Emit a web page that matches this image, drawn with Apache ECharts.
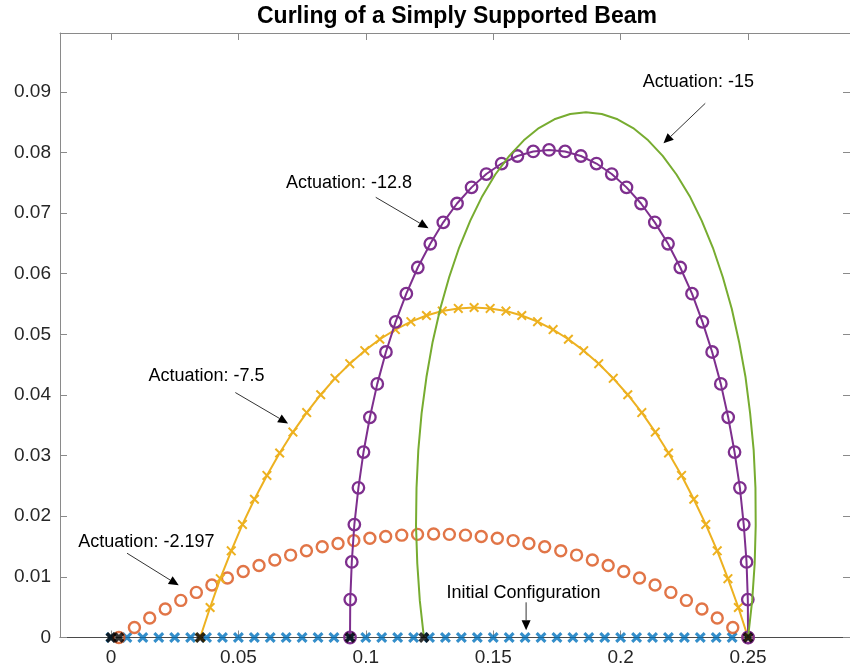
<!DOCTYPE html>
<html>
<head>
<meta charset="utf-8">
<script src="https://cdn.jsdelivr.net/npm/echarts@6/dist/echarts.min.js"></script>
<style>
  html, body { margin: 0; padding: 0; background: #fff; }
  #chart { width: 850px; height: 672px; }
</style>
</head>
<body>
<div id="chart"></div>
<script>
// Axis tick values
const xTicks = [0, 0.05, 0.1, 0.15, 0.2, 0.25];
const yTicks = [0, 0.01, 0.02, 0.03, 0.04, 0.05, 0.06, 0.07, 0.08, 0.09];

// Initial (flat) configuration: 41 nodes along the beam
const initialX = [0, 0.00625, 0.0125, 0.01875, 0.025, 0.03125, 0.0375, 0.04375, 0.05, 0.05625,
  0.0625, 0.06875, 0.075, 0.08125, 0.0875, 0.09375, 0.1, 0.10625, 0.1125, 0.11875,
  0.125, 0.13125, 0.1375, 0.14375, 0.15, 0.15625, 0.1625, 0.16875, 0.175, 0.18125,
  0.1875, 0.19375, 0.2, 0.20625, 0.2125, 0.21875, 0.225, 0.23125, 0.2375, 0.24375, 0.25];
const initialY = [0, 0, 0, 0, 0, 0, 0, 0, 0, 0, 0, 0, 0, 0, 0, 0, 0, 0, 0, 0,
  0, 0, 0, 0, 0, 0, 0, 0, 0, 0, 0, 0, 0, 0, 0, 0, 0, 0, 0, 0, 0];

// Actuation -2.197
const act2197X = [0.0031, 0.0092, 0.0152, 0.0213, 0.0274, 0.0335, 0.0396, 0.0457, 0.0519, 0.0581,
  0.0643, 0.0705, 0.0767, 0.0829, 0.0891, 0.0953, 0.1016, 0.1078, 0.1141, 0.1203,
  0.1266, 0.1328, 0.1391, 0.1453, 0.1516, 0.1578, 0.1640, 0.1702, 0.1765, 0.1827,
  0.1889, 0.1951, 0.2012, 0.2074, 0.2135, 0.2197, 0.2258, 0.2319, 0.2379, 0.2440, 0.25];
const act2197Y = [0, 0.00165, 0.00322, 0.00471, 0.00612, 0.00744, 0.00867, 0.00982, 0.01089, 0.01187,
  0.01277, 0.01359, 0.01431, 0.01496, 0.01551, 0.01598, 0.01637, 0.01667, 0.01688, 0.01701,
  0.01706, 0.01701, 0.01688, 0.01667, 0.01637, 0.01598, 0.01551, 0.01496, 0.01431, 0.01359,
  0.01277, 0.01187, 0.01089, 0.00982, 0.00867, 0.00744, 0.00612, 0.00471, 0.00322, 0.00165, 0];

// Actuation -7.5
const act75X = [0.0350, 0.0389, 0.0429, 0.0472, 0.0516, 0.0563, 0.0612, 0.0662, 0.0714, 0.0768,
  0.0823, 0.0879, 0.0937, 0.0996, 0.1055, 0.1116, 0.1177, 0.1238, 0.1300, 0.1363,
  0.1425, 0.1488, 0.1550, 0.1612, 0.1674, 0.1735, 0.1795, 0.1855, 0.1914, 0.1971,
  0.2028, 0.2083, 0.2136, 0.2188, 0.2239, 0.2287, 0.2334, 0.2379, 0.2421, 0.2462, 0.25];
const act75Y = [0, 0.00495, 0.00971, 0.01429, 0.01865, 0.02280, 0.02673, 0.03043, 0.03388, 0.03709,
  0.04004, 0.04274, 0.04516, 0.04731, 0.04919, 0.05078, 0.05209, 0.05311, 0.05384, 0.05428,
  0.05443, 0.05428, 0.05384, 0.05311, 0.05209, 0.05078, 0.04919, 0.04731, 0.04516, 0.04274,
  0.04004, 0.03709, 0.03388, 0.03043, 0.02673, 0.02280, 0.01865, 0.01429, 0.00971, 0.00495, 0];

// Actuation -12.8
const act128X = [0.0938, 0.0939, 0.0945, 0.0955, 0.0971, 0.0991, 0.1016, 0.1045, 0.1079, 0.1117,
  0.1159, 0.1204, 0.1253, 0.1304, 0.1358, 0.1415, 0.1473, 0.1533, 0.1595, 0.1657,
  0.1719, 0.1782, 0.1844, 0.1905, 0.1965, 0.2023, 0.2080, 0.2134, 0.2186, 0.2234,
  0.2280, 0.2321, 0.2359, 0.2393, 0.2422, 0.2447, 0.2468, 0.2483, 0.2494, 0.2499, 0.25];
const act128Y = [0, 0.00625, 0.01247, 0.01863, 0.02468, 0.03059, 0.03632, 0.04183, 0.04709, 0.05206,
  0.05671, 0.06102, 0.06494, 0.06847, 0.07158, 0.07424, 0.07644, 0.07817, 0.07941, 0.08016,
  0.08041, 0.08016, 0.07941, 0.07817, 0.07644, 0.07424, 0.07158, 0.06847, 0.06494, 0.06102,
  0.05671, 0.05206, 0.04709, 0.04183, 0.03632, 0.03059, 0.02468, 0.01863, 0.01247, 0.00625, 0];

// Actuation -15
const act15X = [0.1228, 0.1212, 0.1202, 0.1197, 0.1199, 0.1206, 0.1219, 0.1238, 0.1262, 0.1292,
  0.1327, 0.1366, 0.1410, 0.1457, 0.1508, 0.1563, 0.1620, 0.1679, 0.1740, 0.1802,
  0.1864, 0.1926, 0.1988, 0.2049, 0.2108, 0.2165, 0.2219, 0.2271, 0.2318, 0.2362,
  0.2401, 0.2436, 0.2465, 0.2490, 0.2508, 0.2522, 0.2529, 0.2530, 0.2526, 0.2516, 0.25];
const act15Y = [0, 0.00604, 0.01221, 0.01844, 0.02468, 0.03089, 0.03700, 0.04296, 0.04871, 0.05422,
  0.05942, 0.06428, 0.06875, 0.07279, 0.07636, 0.07944, 0.08200, 0.08402, 0.08547, 0.08634,
  0.08664, 0.08634, 0.08547, 0.08402, 0.08200, 0.07944, 0.07636, 0.07279, 0.06875, 0.06428,
  0.05942, 0.05422, 0.04871, 0.04296, 0.03700, 0.03089, 0.02468, 0.01844, 0.01221, 0.00604, 0];

// Pinned supports at the beam ends
const supportX = [0, 0.0031, 0.0350, 0.0938, 0.1228, 0.25];
const supportY = [0, 0, 0, 0, 0, 0];

const pairs = (xs, ys) => xs.map((x, i) => [x, ys[i]]);

// Text-arrow notes, placed in data units: label centre, arrow tail, arrow tip
const arrowNotes = [
  { text: 'Actuation: -15', at: [0.2305, 0.0916], from: [0.2332, 0.0881], to: [0.2168, 0.0815] },
  { text: 'Actuation: -12.8', at: [0.0934, 0.0749], from: [0.1039, 0.0726], to: [0.1246, 0.0675] },
  { text: 'Actuation: -7.5', at: [0.0375, 0.0432], from: [0.0488, 0.0404], to: [0.0695, 0.0353] },
  { text: 'Actuation: -2.197', at: [0.0139, 0.0158], from: [0.0063, 0.0139], to: [0.0266, 0.0086] },
  { text: 'Initial Configuration', at: [0.1619, 0.0074], from: [0.1629, 0.0058], to: [0.1629, 0.0012] }
];

const FONT = '"Liberation Sans", Arial, Helvetica, sans-serif';
const C = {
  blue: '#0072BD', orange: '#D95319', yellow: '#EDB120', purple: '#7E2F8E', green: '#77AC30'
};

// Filled "x" glyph in a 10x10 box; d controls the stroke thickness
function xGlyph(d) {
  return 'path://M0,' + d + 'L' + d + ',0L5,' + (5 - d) + 'L' + (10 - d) + ',0L10,' + d +
    'L' + (5 + d) + ',5L10,' + (10 - d) + 'L' + (10 - d) + ',10L5,' + (5 + d) +
    'L' + d + ',10L0,' + (10 - d) + 'L' + (5 - d) + ',5Z';
}

const fmt = v => String(+(+v).toFixed(4));
const boxColor = '#8a8a8a';
const baseColor = '#4a4a4a';

const chart = echarts.init(document.getElementById('chart'), null, { renderer: 'canvas' });

const option = {
  animation: false,
  backgroundColor: '#fff',
  title: {
    text: 'Curling of a Simply Supported Beam',
    left: 452, top: 0, textAlign: 'center',
    textStyle: { fontFamily: FONT, fontSize: 23, fontWeight: 'bold', color: '#000' }
  },
  grid: { left: 60, top: 33, right: -5, bottom: 34.5, containLabel: false },
  xAxis: [
    {
      type: 'value', position: 'bottom', min: -0.02, max: 0.29,
      axisLine: { show: true, onZero: false, lineStyle: { color: baseColor, width: 1 } },
      axisTick: { show: true, inside: true, length: 7, customValues: xTicks, lineStyle: { color: boxColor } },
      axisLabel: { show: true, customValues: xTicks, formatter: fmt, fontFamily: FONT, fontSize: 19, color: '#262626', margin: 11 },
      splitLine: { show: false }
    },
    {
      type: 'value', position: 'top', min: -0.02, max: 0.29,
      axisLine: { show: true, onZero: false, lineStyle: { color: boxColor, width: 1 } },
      axisTick: { show: true, inside: true, length: 7, customValues: xTicks, lineStyle: { color: boxColor } },
      axisLabel: { show: false },
      splitLine: { show: false }
    }
  ],
  yAxis: [
    {
      type: 'value', position: 'left', min: 0, max: 0.0997,
      axisLine: { show: true, onZero: false, lineStyle: { color: boxColor, width: 1 } },
      axisTick: { show: true, inside: true, length: 7, customValues: yTicks, lineStyle: { color: boxColor } },
      axisLabel: { show: true, customValues: yTicks, formatter: fmt, fontFamily: FONT, fontSize: 19, color: '#262626', margin: 9 },
      splitLine: { show: false }
    },
    {
      type: 'value', position: 'right', min: 0, max: 0.0997,
      axisLine: { show: true, onZero: false, lineStyle: { color: boxColor, width: 1 } },
      axisTick: { show: true, inside: true, length: 7, customValues: yTicks, lineStyle: { color: boxColor } },
      axisLabel: { show: false },
      splitLine: { show: false }
    }
  ],
  series: [
    {
      name: 'Initial Configuration', type: 'scatter', clip: false, z: 2,
      data: pairs(initialX, initialY),
      symbol: xGlyph(2.0), symbolSize: 11,
      itemStyle: { color: C.blue }
    },
    {
      name: 'Actuation: -2.197', type: 'scatter', clip: false, z: 3,
      data: pairs(act2197X, act2197Y),
      symbol: 'circle', symbolSize: 11,
      itemStyle: { color: 'rgba(0,0,0,0)', borderColor: C.orange, borderWidth: 2.4 }
    },
    {
      name: 'Actuation: -7.5', type: 'line', clip: false, z: 4,
      data: pairs(act75X, act75Y),
      symbol: xGlyph(1.4), symbolSize: 10, showSymbol: true,
      lineStyle: { color: C.yellow, width: 2 },
      itemStyle: { color: C.yellow }
    },
    {
      name: 'Actuation: -12.8', type: 'line', clip: false, z: 5,
      data: pairs(act128X, act128Y),
      symbol: 'circle', symbolSize: 11.5, showSymbol: true,
      lineStyle: { color: C.purple, width: 2 },
      itemStyle: { color: 'rgba(0,0,0,0)', borderColor: C.purple, borderWidth: 2.3 }
    },
    {
      name: 'Actuation: -15', type: 'line', clip: false, z: 6,
      data: pairs(act15X, act15Y),
      symbol: 'none', showSymbol: false,
      lineStyle: { color: C.green, width: 2 }
    },
    {
      name: 'Supports', type: 'scatter', clip: false, z: 10,
      data: pairs(supportX, supportY),
      symbol: xGlyph(2.4), symbolSize: 11,
      itemStyle: { color: '#000' }
    }
  ]
};

chart.setOption(option);

// Text arrows drawn in pixel space from the data-unit anchors
const toPx = p => chart.convertToPixel({ xAxisIndex: 0, yAxisIndex: 0 }, p);
const graphics = [];
arrowNotes.forEach(n => {
  const a = toPx(n.at), f = toPx(n.from), t = toPx(n.to);
  const dx = t[0] - f[0], dy = t[1] - f[1];
  const len = Math.hypot(dx, dy);
  const ux = dx / len, uy = dy / len;
  const headLen = 10, headHalf = 4.5;
  const bx = t[0] - ux * headLen, by = t[1] - uy * headLen;
  graphics.push({
    type: 'line', silent: true, z: 50,
    shape: { x1: f[0], y1: f[1], x2: bx, y2: by },
    style: { stroke: '#333', lineWidth: 1 }
  });
  graphics.push({
    type: 'polygon', silent: true, z: 50,
    shape: { points: [[t[0], t[1]], [bx - uy * headHalf, by + ux * headHalf], [bx + uy * headHalf, by - ux * headHalf]] },
    style: { fill: '#000' }
  });
  graphics.push({
    type: 'text', silent: true, z: 50,
    x: a[0], y: a[1],
    style: { text: n.text, fontFamily: FONT, fontSize: 18, fill: '#000', align: 'center', verticalAlign: 'middle' }
  });
});
chart.setOption({ graphic: graphics });
</script>
</body>
</html>
